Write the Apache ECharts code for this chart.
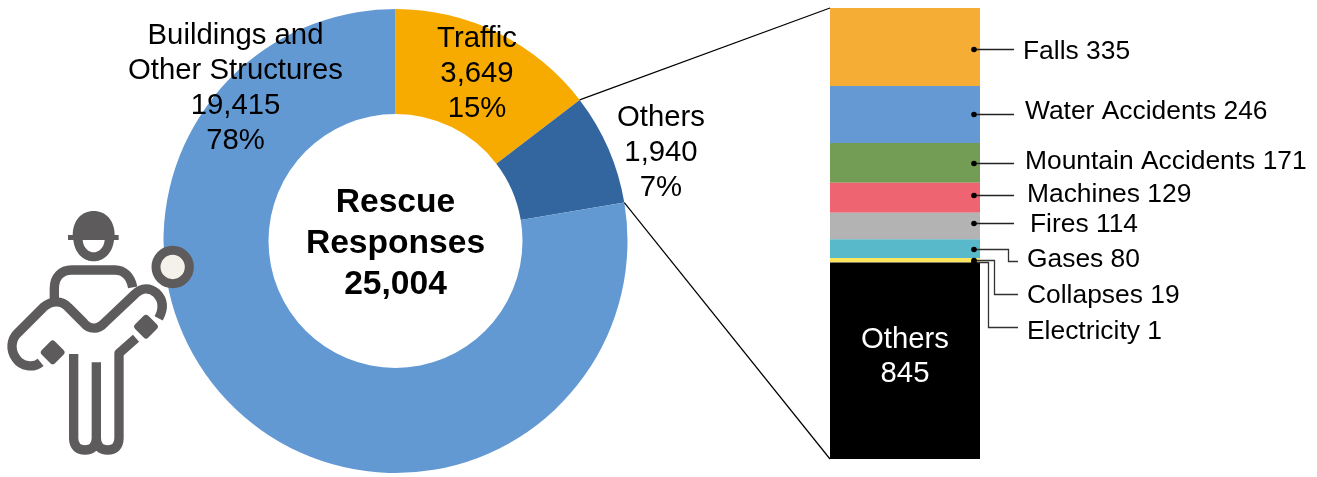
<!DOCTYPE html>
<html><head><meta charset="utf-8">
<style>html,body{margin:0;padding:0;background:#fff}#c{width:1317px;height:477px}</style>
<script src="https://cdn.jsdelivr.net/npm/echarts@6/dist/echarts.min.js"></script>
</head><body><div id="c"></div>
<script>
// Data
const pieNames = ['Traffic', 'Others', 'Buildings and\nOther Structures'];
const pieValues = [3649, 1940, 19415];
const piePercents = ['15%', '7%', '78%'];
const pieColors = ['#f7ab00', '#33659f', '#6399d3'];
const centerLines = ['Rescue', 'Responses', '25,004'];

const barNames = ['Falls', 'Water Accidents', 'Mountain Accidents', 'Machines', 'Fires', 'Gases', 'Collapses', 'Electricity', 'Others'];
const barValues = [335, 246, 171, 129, 114, 80, 19, 1, 845];
const barColors = ['#f5ad35', '#6599d3', '#739c54', '#ee6470', '#b2b3b2', '#58b9cb', '#fbe55e', '#fbe55e', '#000000'];

// Layout
const PIE = { cx: 395.5, cy: 241, r0: 127, r1: 232 };
const BAR = { left: 830, right: 980, top: 8, bottom: 459 };
const FONT = '"Liberation Sans", Arial, sans-serif';
const FS = 26.4;
const FS_BIG = 29.3;
const pieLabelPos = [[477, 21], [661, 100], [235.5, 18]];
const leaders = [
  { tx: 1023, ty: 52, ex: 1014, dy: 2 },
  { tx: 1025, ty: 112, ex: 1014, dy: 0 },
  { tx: 1025, ty: 162, ex: 1014, dy: 0 },
  { tx: 1027, ty: 195, ex: 1014, dy: -3 },
  { tx: 1030, ty: 225, ex: 1014, dy: -3 },
  { tx: 1027, ty: 260, ex: 1018, elbow: 1008, ly: 261, dy: 0 },
  { tx: 1027, ty: 296, ex: 1018, elbow: 994, ly: 294, dy: 0 },
  { tx: 1027, ty: 332, ex: 1018, elbow: 988, ly: 327, dy: 0 },
];
const DOT_X = 974;

let run = 0;
const barMids = barValues.map(v => { const m = run + v / 2; run += v; return m; });
const barTotal = run;

const pieTotal = pieValues.reduce((a, b) => a + b, 0);
const edge = (sum) => {
  const a = sum / pieTotal * Math.PI * 2;
  return [PIE.cx + PIE.r1 * Math.sin(a), PIE.cy - PIE.r1 * Math.cos(a)];
};
const conA = edge(pieValues[0]);
const conB = edge(pieValues[0] + pieValues[1]);

// Small outline shape for the worker pictogram (absolute M/L/C/Z commands)
echarts.graphic.registerShape('outline', echarts.graphic.extendShape({
  shape: { d: '' },
  buildPath(ctx, shape) {
    const t = shape.d.match(/[MLCZ]|-?[\d.]+/g) || [];
    let i = 0;
    const n = () => parseFloat(t[i++]);
    while (i < t.length) {
      const c = t[i++];
      if (c === 'M') ctx.moveTo(n(), n());
      else if (c === 'L') ctx.lineTo(n(), n());
      else if (c === 'C') ctx.bezierCurveTo(n(), n(), n(), n(), n(), n());
      else if (c === 'Z') ctx.closePath();
    }
  }
}));

const INK = '#5d5b5c';
const strokeStyle = { stroke: INK, lineWidth: 28, fill: null, lineCap: 'butt', lineJoin: 'round' };
const hand = (x, y) => ({ type: 'rect', x: x, y: y, rotation: Math.PI / 4,
  shape: { x: -28, y: -28, width: 56, height: 56, r: 10 }, style: { fill: INK } });
const iconParts = [
  { type: 'outline', shape: { d: 'M220 150 C225 195 255 214 281 214 C307 214 337 195 342 150 Z M248 150 L314 150 C312 175 295 187 281 187 C267 187 250 175 248 150 Z' }, style: { fill: INK, fillRule: 'evenodd' } },
  { type: 'outline', shape: { d: 'M218 137 C218 90 245 63 281 63 C317 63 344 90 344 137 Z' }, style: { fill: INK } },
  { type: 'rect', shape: { x: 204, y: 135, width: 152, height: 15 }, style: { fill: INK } },
  { type: 'outline', shape: { d: 'M163 335 L163 295 C163 260 185 240 215 240 L345 240 C372 240 392 260 398 292' }, style: strokeStyle },
  { type: 'outline', shape: { d: 'M122 517 C100 535 65 530 48 505 C30 480 33 450 52 430 L130 352 C155 330 185 330 205 352 L250 397 C268 420 295 420 315 397 L405 312 C425 292 450 292 470 310 C490 330 492 355 476 385' }, style: strokeStyle },
  hand(158, 487),
  hand(438, 410),
  { type: 'outline', shape: { d: 'M221 492 L221 745 C221 770 235 780 255 780 C275 780 289 770 289 745 L289 517 M289 745 C289 770 303 780 323 780 C343 780 357 770 357 745 L357 490 L408 445' }, style: strokeStyle },
  { type: 'circle', shape: { cx: 518, cy: 231, r: 50 }, style: { fill: '#f3f1e9', stroke: INK, lineWidth: 27 } },
].map(p => Object.assign(p, { z: 20 }));
const icon = { type: 'group', x: 0, y: 190, scaleX: 1 / 3, scaleY: 1 / 3, children: iconParts };

const option = {
  animation: false,
  backgroundColor: '#ffffff',
  textStyle: { fontFamily: FONT },
  grid: { left: BAR.left, top: BAR.top, width: BAR.right - BAR.left, height: BAR.bottom - BAR.top },
  xAxis: { type: 'category', data: ['Others'], show: false },
  yAxis: { type: 'value', min: 0, max: barTotal, inverse: true, show: false },
  series: [
    {
      type: 'pie', center: [PIE.cx, PIE.cy], radius: [PIE.r0, PIE.r1], startAngle: 90, clockwise: true,
      silent: true, z: 2,
      data: pieNames.map((n, i) => ({ name: n, value: pieValues[i], itemStyle: { color: pieColors[i] } })),
      label: {
        show: true, position: 'inside', color: '#000', fontFamily: FONT, fontSize: FS_BIG, lineHeight: 35, align: 'center',
        formatter: p => p.name + '\n' + p.value.toLocaleString('en-US') + '\n' + piePercents[p.dataIndex]
      },
      labelLine: { show: false },
      labelLayout: p => ({ x: pieLabelPos[p.dataIndex][0], y: pieLabelPos[p.dataIndex][1], align: 'center', verticalAlign: 'top' })
    },
    ...barNames.map((n, i) => ({
      type: 'bar', name: n, stack: 'others', data: [barValues[i]], barWidth: '100%', silent: true,
      itemStyle: { color: barColors[i] }, z: 3,
      label: i === barNames.length - 1 ? {
        show: true, position: 'inside', color: '#fff', fontFamily: FONT, fontSize: FS_BIG, lineHeight: 34,
        formatter: () => n + '\n' + barValues[i], offset: [0, -4]
      } : { show: false }
    })),
    {
      type: 'custom', coordinateSystem: 'cartesian2d', silent: true, z: 6, clip: false,
      data: barMids.slice(0, leaders.length).map((m, i) => [0, m, i]),
      encode: { x: 0, y: 1 },
      renderItem: (params, api) => {
        const i = api.value(2);
        const L = leaders[i];
        const y = Math.round(api.coord([0, api.value(1)])[1]) + L.dy + 0.5;
        const pts = L.elbow
          ? [[DOT_X, y], [L.elbow + 0.5, y], [L.elbow + 0.5, L.ly + 0.5], [L.ex, L.ly + 0.5]]
          : [[DOT_X, y], [L.ex, y]];
        return {
          type: 'group',
          children: [
            { type: 'polyline', shape: { points: pts }, style: { stroke: L.elbow ? '#333' : '#222', lineWidth: 1.3, fill: null } },
            { type: 'circle', shape: { cx: DOT_X, cy: y, r: 2.8 }, style: { fill: '#000' } },
            { type: 'text', x: L.tx, y: L.ty, style: { text: barNames[i] + ' ' + barValues[i], fill: '#000', font: FS + 'px ' + FONT, textAlign: 'left', textVerticalAlign: 'middle' } }
          ]
        };
      }
    }
  ],
  graphic: [
    { type: 'line', z: 5, shape: { x1: conA[0], y1: conA[1], x2: BAR.left, y2: BAR.top }, style: { stroke: '#000', lineWidth: 1.2 } },
    { type: 'line', z: 5, shape: { x1: conB[0], y1: conB[1], x2: BAR.left, y2: BAR.bottom }, style: { stroke: '#000', lineWidth: 1.2 } },
    { type: 'text', z: 5, x: PIE.cx, y: 244, style: { text: centerLines.join('\n'), fill: '#000', font: 'bold 33.6px ' + FONT, lineHeight: 41, textAlign: 'center', textVerticalAlign: 'middle' } },
    icon
  ]
};
echarts.init(document.getElementById('c'), null, { renderer: 'canvas' }).setOption(option);
</script></body></html>
